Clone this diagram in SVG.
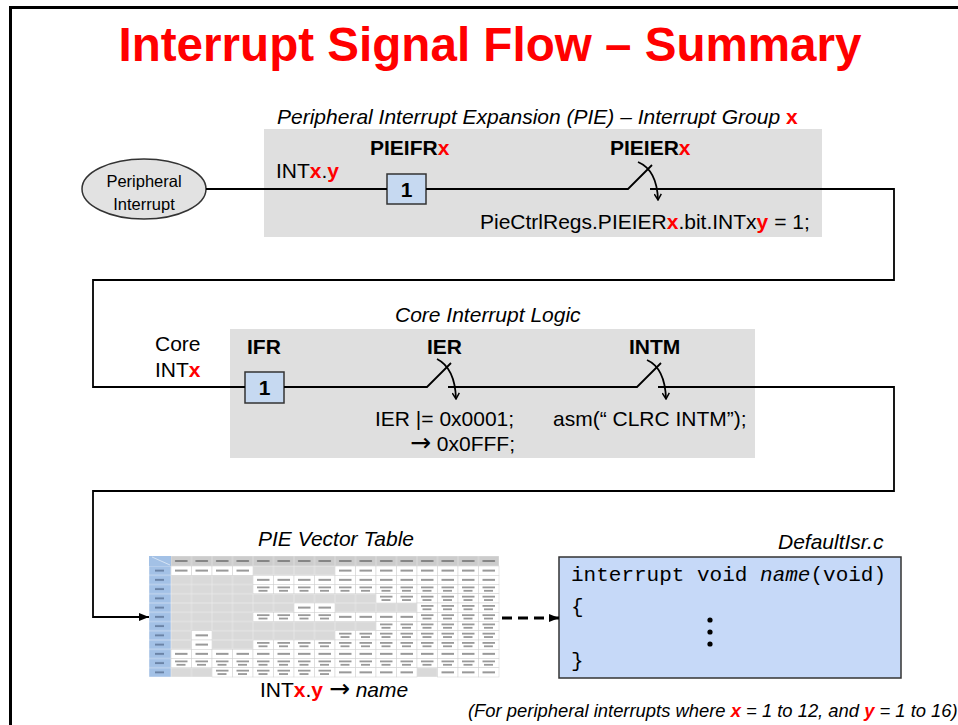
<svg xmlns="http://www.w3.org/2000/svg" xmlns:xlink="http://www.w3.org/1999/xlink" width="958" height="725" viewBox="0 0 958 725">
<style>
text{font-family:"Liberation Sans",Arial,sans-serif;fill:#000}
.t18{font-size:21px}
.b{font-weight:bold}
.i{font-style:italic}
.r{fill:#ff0000;font-weight:bold}
.arw{font-family:"DejaVu Sans",sans-serif;font-size:25px}
.mono{font-family:"Liberation Mono","Courier New",monospace;font-size:21px}
.wire{fill:none;stroke:#000;stroke-width:1.8}
.reg{fill:#c6d9f1;stroke:#333;stroke-width:1.5}
.panel{fill:#dfdfdf}
</style>
<defs>
<marker id="chev" viewBox="0 0 8 8" refX="7" refY="4" markerWidth="8" markerHeight="8" markerUnits="userSpaceOnUse" orient="auto">
<path d="M1,0.5 L7,4 L1,7.5" fill="none" stroke="#000" stroke-width="1.5"/>
</marker>
<marker id="arr" viewBox="0 0 10 8" refX="10" refY="4" markerWidth="10" markerHeight="8" markerUnits="userSpaceOnUse" orient="auto">
<path d="M0,0 L10,4 L0,8 z" fill="#000"/>
</marker>
<pattern id="grid" x="171" y="566" width="20.5" height="9.25" patternUnits="userSpaceOnUse">
<rect width="20.5" height="9.25" fill="#d9d9d9" stroke="#efefef" stroke-width="0.6"/>
</pattern>
<pattern id="hc" x="149" y="566" width="22" height="9.25" patternUnits="userSpaceOnUse">
<rect width="22" height="9.25" fill="#a3c1e6" stroke="#e2ebf6" stroke-width="0.6"/>
<rect x="6" y="3.6" width="9" height="2" fill="#6a83a6"/>
</pattern>
<pattern id="hr" x="171" y="556" width="20.5" height="10" patternUnits="userSpaceOnUse">
<rect width="20.5" height="10" fill="#cccccc" stroke="#e6e6e6" stroke-width="0.6"/>
<rect x="4" y="4" width="12.5" height="2" fill="#858585"/>
</pattern>
<symbol id="a" overflow="visible">
<rect width="20.5" height="9.25" fill="#fff" stroke="#d0d0d0" stroke-width="0.5"/>
<rect x="4" y="3.6" width="12.5" height="2" fill="#999"/>
</symbol>
<symbol id="b" overflow="visible">
<rect width="20.5" height="9.25" fill="#fff" stroke="#d0d0d0" stroke-width="0.5"/>
<rect x="4" y="2" width="12.5" height="1.8" fill="#999"/>
<rect x="5.5" y="5.4" width="9" height="1.8" fill="#999"/>
</symbol>
</defs>

<rect width="958" height="725" fill="#fff"/>
<rect x="10.5" y="7.5" width="960" height="730" fill="none" stroke="#000" stroke-width="3"/>

<text x="490" y="61" text-anchor="middle" font-size="47.6" font-weight="bold" style="fill:#ff0000">Interrupt Signal Flow – Summary</text>

<g id="pie-panel">
<rect class="panel" x="264" y="129" width="558" height="108"/>
<text class="t18 i" x="277" y="124">Peripheral Interrupt Expansion (PIE) – Interrupt Group <tspan class="r" font-style="normal">x</tspan></text>
<text class="t18" x="276" y="178">INT<tspan class="r">x</tspan>.<tspan class="r">y</tspan></text>
<text class="t18 b" x="370" y="155">PIEIFR<tspan class="r">x</tspan></text>
<text class="t18 b" x="610" y="155">PIEIER<tspan class="r">x</tspan></text>
<text class="t18" x="480" y="229">PieCtrlRegs.PIEIER<tspan class="r">x</tspan>.bit.INTx<tspan class="r">y</tspan> = 1;</text>
</g>

<g id="peripheral-interrupt">
<ellipse cx="144" cy="189" rx="62" ry="30" fill="#e2e2e2" stroke="#333" stroke-width="1.5"/>
<text x="144" y="187" text-anchor="middle" font-size="16.5">Peripheral</text>
<text x="144" y="210" text-anchor="middle" font-size="16.5">Interrupt</text>
</g>

<g id="pieifr-box">
<rect class="reg" x="387" y="174" width="39" height="30"/>
<text x="406.5" y="197" text-anchor="middle" font-size="21" font-weight="bold">1</text>
</g>

<g id="core-panel">
<rect class="panel" x="230" y="329" width="525" height="129"/>
<text class="t18 i" x="395" y="322">Core Interrupt Logic</text>
<text class="t18" x="155" y="351">Core</text>
<text class="t18" x="155" y="377">INT<tspan class="r">x</tspan></text>
<text class="t18 b" x="247" y="354">IFR</text>
<text class="t18 b" x="427" y="354">IER</text>
<text class="t18 b" x="629" y="354">INTM</text>
<text class="t18" x="375" y="426">IER |= 0x0001;</text>
<text class="t18" x="410" y="451"><tspan class="arw" font-size="21">→</tspan> 0x0FFF;</text>
<text class="t18" x="553" y="426">asm(“ CLRC INTM”);</text>
</g>

<g id="ifr-box">
<rect class="reg" x="245" y="372" width="39" height="31"/>
<text x="264.5" y="395" text-anchor="middle" font-size="21" font-weight="bold">1</text>
</g>

<g id="pie-vector-table">
<text class="t18 i" x="258" y="546">PIE Vector Table</text>
<rect x="171" y="566" width="328" height="111" fill="url(#grid)"/>
<rect x="149" y="566" width="22" height="111" fill="url(#hc)"/>
<rect x="171" y="556" width="328" height="10" fill="url(#hr)"/>
<rect x="149" y="556" width="22" height="10" fill="#a3c1e6"/>
<line x1="152" y1="557" x2="170" y2="565" stroke="#e2ebf6" stroke-width="0.8"/>
<!-- INT1 -->
<use href="#a" x="171" y="566"/><use href="#a" x="191.5" y="566"/><use href="#a" x="212" y="566"/><use href="#a" x="232.5" y="566"/>
<use href="#a" x="335" y="566"/><use href="#a" x="355.5" y="566"/><use href="#a" x="376" y="566"/><use href="#a" x="396.5" y="566"/><use href="#a" x="417" y="566"/><use href="#a" x="437.5" y="566"/><use href="#a" x="458" y="566"/><use href="#a" x="478.5" y="566"/>
<!-- INT2 -->
<use href="#a" x="253" y="575.25"/><use href="#a" x="273.5" y="575.25"/><use href="#a" x="294" y="575.25"/><use href="#a" x="314.5" y="575.25"/><use href="#a" x="335" y="575.25"/><use href="#a" x="355.5" y="575.25"/><use href="#a" x="376" y="575.25"/><use href="#a" x="396.5" y="575.25"/><use href="#a" x="417" y="575.25"/><use href="#a" x="437.5" y="575.25"/><use href="#a" x="458" y="575.25"/><use href="#a" x="478.5" y="575.25"/>
<!-- INT3 -->
<use href="#b" x="253" y="584.5"/><use href="#b" x="273.5" y="584.5"/><use href="#b" x="294" y="584.5"/><use href="#b" x="314.5" y="584.5"/><use href="#b" x="335" y="584.5"/><use href="#b" x="355.5" y="584.5"/><use href="#b" x="376" y="584.5"/><use href="#b" x="396.5" y="584.5"/><use href="#b" x="417" y="584.5"/><use href="#b" x="437.5" y="584.5"/><use href="#b" x="458" y="584.5"/><use href="#b" x="478.5" y="584.5"/>
<!-- INT4 -->
<use href="#b" x="376" y="593.75"/><use href="#b" x="396.5" y="593.75"/><use href="#b" x="417" y="593.75"/><use href="#b" x="437.5" y="593.75"/><use href="#b" x="458" y="593.75"/><use href="#b" x="478.5" y="593.75"/>
<!-- INT5 -->
<use href="#a" x="294" y="603"/><use href="#a" x="314.5" y="603"/>
<use href="#b" x="417" y="603"/><use href="#b" x="437.5" y="603"/><use href="#b" x="458" y="603"/><use href="#b" x="478.5" y="603"/>
<!-- INT6 -->
<use href="#b" x="253" y="612.25"/><use href="#b" x="273.5" y="612.25"/><use href="#b" x="294" y="612.25"/><use href="#b" x="314.5" y="612.25"/>
<use href="#a" x="335" y="612.25"/><use href="#a" x="355.5" y="612.25"/><use href="#a" x="376" y="612.25"/><use href="#a" x="396.5" y="612.25"/>
<use href="#b" x="417" y="612.25"/><use href="#b" x="437.5" y="612.25"/><use href="#b" x="458" y="612.25"/><use href="#b" x="478.5" y="612.25"/>
<!-- INT7 -->
<use href="#b" x="376" y="621.5"/><use href="#b" x="396.5" y="621.5"/><use href="#b" x="417" y="621.5"/><use href="#b" x="437.5" y="621.5"/><use href="#b" x="458" y="621.5"/><use href="#b" x="478.5" y="621.5"/>
<!-- INT8 -->
<use href="#a" x="191.5" y="630.75"/>
<use href="#b" x="335" y="630.75"/><use href="#b" x="355.5" y="630.75"/><use href="#b" x="376" y="630.75"/><use href="#b" x="396.5" y="630.75"/><use href="#b" x="417" y="630.75"/><use href="#b" x="437.5" y="630.75"/><use href="#b" x="458" y="630.75"/><use href="#b" x="478.5" y="630.75"/>
<!-- INT9 -->
<use href="#a" x="191.5" y="640"/>
<use href="#b" x="253" y="640"/><use href="#b" x="273.5" y="640"/><use href="#b" x="294" y="640"/><use href="#b" x="314.5" y="640"/><use href="#b" x="335" y="640"/><use href="#b" x="355.5" y="640"/><use href="#b" x="376" y="640"/><use href="#b" x="396.5" y="640"/><use href="#b" x="417" y="640"/><use href="#b" x="437.5" y="640"/><use href="#b" x="458" y="640"/><use href="#b" x="478.5" y="640"/>
<!-- INT10 -->
<use href="#a" x="171" y="649.25"/><use href="#a" x="191.5" y="649.25"/><use href="#a" x="212" y="649.25"/><use href="#a" x="232.5" y="649.25"/><use href="#a" x="253" y="649.25"/><use href="#a" x="273.5" y="649.25"/><use href="#a" x="294" y="649.25"/><use href="#a" x="314.5" y="649.25"/><use href="#a" x="335" y="649.25"/><use href="#a" x="355.5" y="649.25"/><use href="#a" x="376" y="649.25"/><use href="#a" x="396.5" y="649.25"/><use href="#a" x="417" y="649.25"/><use href="#a" x="437.5" y="649.25"/><use href="#a" x="458" y="649.25"/><use href="#a" x="478.5" y="649.25"/>
<!-- INT11 -->
<use href="#b" x="171" y="658.5"/><use href="#b" x="191.5" y="658.5"/><use href="#b" x="212" y="658.5"/><use href="#b" x="232.5" y="658.5"/><use href="#b" x="253" y="658.5"/><use href="#b" x="273.5" y="658.5"/><use href="#b" x="294" y="658.5"/><use href="#b" x="314.5" y="658.5"/><use href="#b" x="335" y="658.5"/><use href="#b" x="355.5" y="658.5"/><use href="#b" x="376" y="658.5"/><use href="#b" x="396.5" y="658.5"/><use href="#b" x="417" y="658.5"/><use href="#b" x="437.5" y="658.5"/><use href="#b" x="458" y="658.5"/><use href="#b" x="478.5" y="658.5"/>
<!-- INT12 -->
<use href="#b" x="212" y="667.75"/><use href="#b" x="232.5" y="667.75"/><use href="#b" x="253" y="667.75"/><use href="#b" x="273.5" y="667.75"/><use href="#b" x="294" y="667.75"/><use href="#b" x="314.5" y="667.75"/>
<use href="#a" x="335" y="667.75"/><use href="#a" x="355.5" y="667.75"/><use href="#a" x="376" y="667.75"/><use href="#a" x="396.5" y="667.75"/>
<use href="#a" x="437.5" y="667.75"/><use href="#a" x="458" y="667.75"/><use href="#a" x="478.5" y="667.75"/>
<text class="t18" x="260" y="697">INT<tspan class="r">x</tspan>.<tspan class="r">y</tspan> <tspan class="arw">→</tspan> <tspan font-style="italic">name</tspan></text>
</g>

<g id="default-isr">
<text class="t18 i" x="778" y="549">DefaultIsr.c</text>
<rect x="559" y="557" width="342" height="121" fill="#c6d9f8" stroke="#333" stroke-width="1.5"/>
<text class="mono" x="571" y="581">interrupt void <tspan font-style="italic">name</tspan>(void)</text>
<text class="mono" x="571" y="613">{</text>
<text class="mono" x="571" y="667">}</text>
<circle cx="710" cy="620" r="2.6" fill="#000"/>
<circle cx="710" cy="632" r="2.6" fill="#000"/>
<circle cx="710" cy="644" r="2.6" fill="#000"/>
</g>

<g id="connectors">
<path class="wire" d="M206,189 H387"/>
<path class="wire" d="M426,189 H628 L652,165"/>
<path class="wire" d="M650,189 H894 V280 H93 V387 H245"/>
<path class="wire" d="M638,162 Q657,170 658,200" marker-end="url(#chev)"/>
<path class="wire" d="M284,387 H427 L451,363"/>
<path class="wire" d="M437,359 Q455,368 456,399" marker-end="url(#chev)"/>
<path class="wire" d="M448,387 H637 L661,363"/>
<path class="wire" d="M647,360 Q665,368 666,399" marker-end="url(#chev)"/>
<path class="wire" d="M658,387 H894 V491 H93 V617 H149" marker-end="url(#arr)"/>
<path d="M502,618 H559" fill="none" stroke="#000" stroke-width="3" stroke-dasharray="10,6" marker-end="url(#arr)"/>
</g>

<text class="i" x="468" y="717" font-size="18.4">(For peripheral interrupts where <tspan class="r">x</tspan> = 1 to 12, and <tspan class="r">y</tspan> = 1 to 16)</text>
</svg>
